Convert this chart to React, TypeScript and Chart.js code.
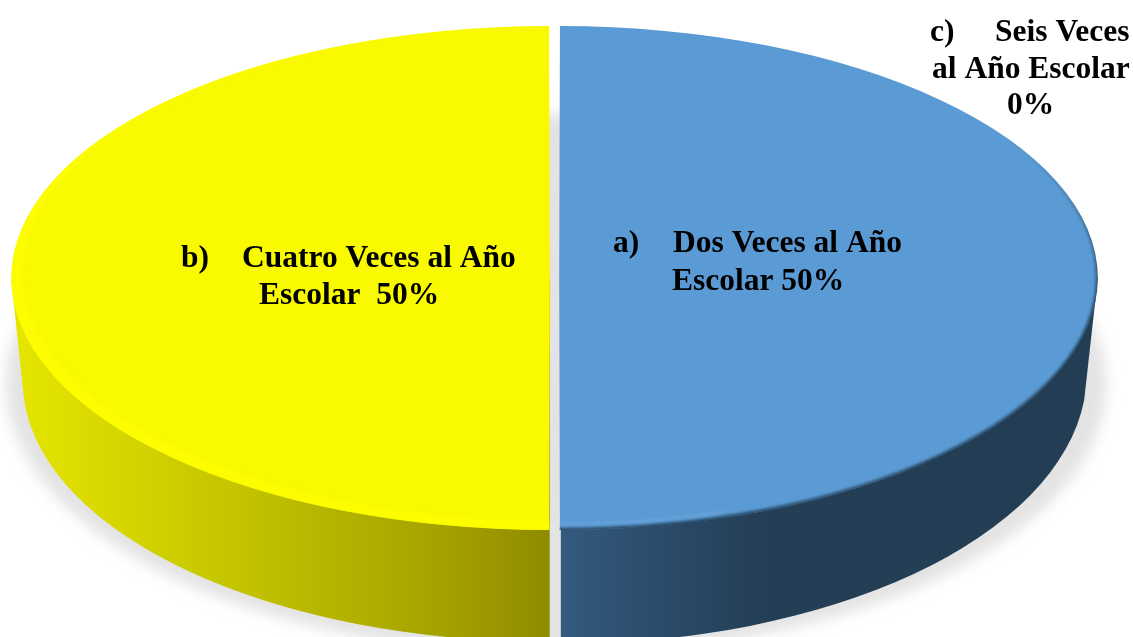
import React, { useEffect, useRef } from "react";
import { Chart, registerables } from "chart.js";

Chart.register(...registerables);

const categories = ["a) Dos Veces al Año Escolar", "b) Cuatro Veces al Año Escolar", "c) Seis Veces al Año Escolar"];
const values = [50, 50, 0];
const topColors = ["#5b9bd5", "#f9f900", "#a5a5a5"];

const labelTexts = [
  [["a)", 613, 252], ["Dos Veces al Año", 673, 252], ["Escolar 50%", 672, 290]],
  [["b)", 181, 267], ["Cuatro Veces al Año", 242, 267], ["Escolar  50%", 259, 304]],
  [["c)", 930, 41], ["Seis Veces", 995, 41], ["al Año Escolar", 932, 78], ["0%", 1007, 114]],
] as [string, number, number][][];

const W = 1133;
const H = 637;
const CX = 554.5;
const CY = 278;
const RX = 538.5;
const RY = 252;
const OFFSET = 11;
const GAP = 4.8;
const WALL_TOP = 400;
const YELLOW_WALL = { cy: 381, rx: 527, ry: 261 };
const BLUE_WALL = { cy: 373, rx: 526, ry: 271 };
const FONT = "bold 31.5px 'Liberation Serif', 'Times New Roman', serif";

const pie3d = {
  id: "pie3d",
  beforeDatasetsDraw(chart: any) {
    const ctx: CanvasRenderingContext2D = chart.ctx;
    const arc = chart.getDatasetMeta(0).data[0];
    const { x, y, outerRadius } = arc.getProps(["x", "y", "outerRadius"], true);
    const R = outerRadius + OFFSET / 4;

    // soft ground shadow
    ctx.save();
    ctx.filter = "blur(7px)";
    ctx.fillStyle = "#e3e3e3";
    ctx.beginPath();
    ctx.ellipse(556, 384, 550, 270, 0, 0, Math.PI * 2);
    ctx.fill();
    ctx.restore();

    // right side wall (blue)
    const xb = CX + GAP + 1.5;
    const blue = ctx.createLinearGradient(xb, 0, CX + RX, 0);
    blue.addColorStop(0, "#345a7e");
    blue.addColorStop(0.14, "#2d4f70");
    blue.addColorStop(0.38, "#243e55");
    blue.addColorStop(1, "#233d54");
    ctx.fillStyle = blue;
    ctx.beginPath();
    ctx.moveTo(xb, CY);
    ctx.lineTo(CX + GAP + RX, CY);
    const aBlue = Math.asin((WALL_TOP - BLUE_WALL.cy) / BLUE_WALL.ry);
    ctx.ellipse(xb, BLUE_WALL.cy, BLUE_WALL.rx, BLUE_WALL.ry, 0, aBlue, Math.PI / 2);
    ctx.closePath();
    ctx.fill();

    // left side wall (yellow)
    const xy = CX - GAP;
    const yellow = ctx.createLinearGradient(xy - RX, 0, xy, 0);
    yellow.addColorStop(0, "#e6e600");
    yellow.addColorStop(0.27, "#d0d000");
    yellow.addColorStop(0.6, "#b4b400");
    yellow.addColorStop(0.82, "#a2a000");
    yellow.addColorStop(1, "#8f8b00");
    ctx.fillStyle = yellow;
    ctx.beginPath();
    ctx.moveTo(xy, CY);
    ctx.lineTo(xy - RX, CY);
    const aYellow = Math.asin((WALL_TOP - YELLOW_WALL.cy) / YELLOW_WALL.ry);
    ctx.ellipse(xy, YELLOW_WALL.cy, YELLOW_WALL.rx, YELLOW_WALL.ry, 0, Math.PI - aYellow, Math.PI / 2, true);
    ctx.closePath();
    ctx.fill();

    // the arcs themselves are flattened by the transform restored in afterDatasetsDraw
    ctx.save();
    ctx.filter = "blur(0.7px)";
    ctx.translate(CX, CY);
    ctx.scale(RX / R, RY / R);
    ctx.translate(-x, -y);
  },
  afterDatasetsDraw(chart: any) {
    const ctx: CanvasRenderingContext2D = chart.ctx;
    ctx.restore();

    // bright crescent rim on the yellow half
    const xy = CX - GAP;
    ctx.save();
    ctx.beginPath();
    ctx.ellipse(xy, CY, RX, RY, 0, Math.PI / 2, Math.PI * 1.5);
    ctx.closePath();
    ctx.clip();
    ctx.filter = "blur(1.5px)";
    ctx.fillStyle = "#fdfd00";
    ctx.beginPath();
    ctx.ellipse(xy, CY, RX, RY, 0, Math.PI / 2, Math.PI * 1.5);
    ctx.ellipse(xy, CY - 4.5, RX - 11, RY - 4.5, 0, Math.PI * 1.5, Math.PI / 2, true);
    ctx.closePath();
    ctx.fill();
    ctx.restore();

    // shaded rim on the blue half
    const xb = CX + GAP;
    ctx.save();
    ctx.beginPath();
    ctx.ellipse(xb, CY, RX, RY, 0, -Math.PI / 2, Math.PI / 2);
    ctx.closePath();
    ctx.clip();
    const edge = ctx.createLinearGradient(0, CY - 140, 0, CY + 30);
    edge.addColorStop(0, "rgba(35,62,85,0)");
    edge.addColorStop(1, "rgba(35,62,85,0.95)");
    ctx.filter = "blur(1.5px)";
    ctx.strokeStyle = edge;
    ctx.lineWidth = 4;
    ctx.beginPath();
    ctx.ellipse(xb, CY, RX, RY, 0, -Math.PI / 2, Math.PI / 2);
    ctx.stroke();
    ctx.filter = "blur(1px)";
    ctx.strokeStyle = "rgba(120,175,225,0.35)";
    ctx.lineWidth = 3;
    ctx.beginPath();
    ctx.ellipse(xb, CY, RX - 4, RY - 6, 0, Math.PI * 0.4, Math.PI / 2);
    ctx.stroke();
    ctx.restore();

    // labels
    ctx.save();
    ctx.font = FONT;
    ctx.fillStyle = "#000000";
    ctx.textAlign = "left";
    ctx.textBaseline = "alphabetic";
    labelTexts.forEach((lines) =>
      lines.forEach(([text, lx, ly]) => ctx.fillText(text, lx, ly))
    );
    ctx.restore();
  },
};

export default function App() {
  const ref = useRef<HTMLCanvasElement | null>(null);
  useEffect(() => {
    document.body.style.margin = "0";
    document.body.style.background = "#ffffff";
    const chart = new Chart(ref.current as HTMLCanvasElement, {
      type: "pie",
      data: {
        labels: categories,
        datasets: [
          {
            data: values,
            backgroundColor: topColors,
            borderWidth: 0,
            offset: OFFSET,
            clip: false,
          } as any,
        ],
      },
      options: {
        responsive: false,
        animation: false,
        layout: { padding: 0 },
        plugins: { legend: { display: false }, tooltip: { enabled: false }, title: { display: false } },
      },
      plugins: [pie3d],
    });
    return () => chart.destroy();
  }, []);
  return (
    <div style={{ width: W, height: H, overflow: "hidden", background: "#fff" }}>
      <canvas ref={ref} width={W} height={H} style={{ display: "block" }} />
    </div>
  );
}
